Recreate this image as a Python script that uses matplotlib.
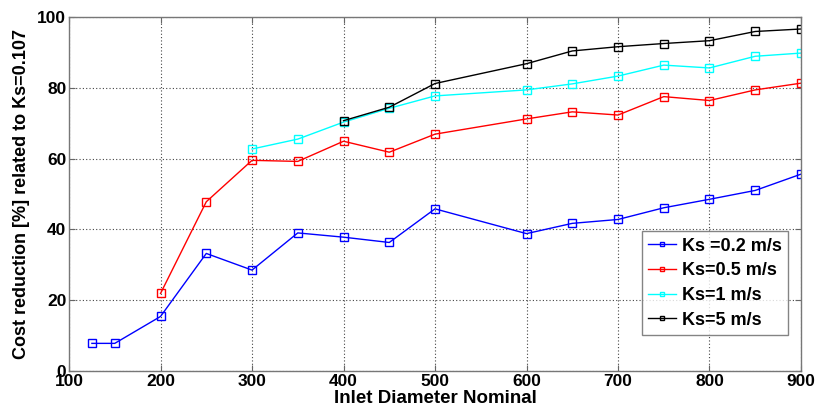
import matplotlib
matplotlib.use("Agg")
import matplotlib.pyplot as plt

plt.rcParams['font.family'] = ['Liberation Sans', 'DejaVu Sans']
plt.rcParams['font.weight'] = 'bold'

# Inlet diameters (nominal) for each series
d_02 = [125, 150, 200, 250, 300, 350, 400, 450, 500, 600, 650, 700, 750, 800, 850, 900]
v_02 = [7.8, 7.8, 15.4, 33.2, 28.5, 39.0, 37.8, 36.3, 45.8, 38.8, 41.7, 42.8, 46.1, 48.5, 51.0, 55.6]

d_05 = [200, 250, 300, 350, 400, 450, 500, 600, 650, 700, 750, 800, 850, 900]
v_05 = [21.9, 47.8, 59.5, 59.2, 64.9, 61.8, 66.9, 71.2, 73.2, 72.3, 77.5, 76.4, 79.4, 81.3]

d_1 = [300, 350, 400, 450, 500, 600, 650, 700, 750, 800, 850, 900]
v_1 = [62.7, 65.5, 70.3, 74.2, 77.7, 79.4, 81.1, 83.3, 86.4, 85.6, 88.9, 89.8]

d_5 = [400, 450, 500, 600, 650, 700, 750, 800, 850, 900]
v_5 = [70.7, 74.5, 81.2, 86.8, 90.4, 91.6, 92.5, 93.3, 95.9, 96.6]

series = [
    (d_02, v_02, '#0000ff', 'Ks =0.2 m/s'),
    (d_05, v_05, '#ff0000', 'Ks=0.5 m/s'),
    (d_1, v_1, '#00ffff', 'Ks=1 m/s'),
    (d_5, v_5, '#000000', 'Ks=5 m/s'),
]

x_ticks = [100, 200, 300, 400, 500, 600, 700, 800, 900]
y_ticks = [0, 20, 40, 60, 80, 100]

fig = plt.figure(figsize=(8.16, 4.19), dpi=100)
ax = fig.add_axes([0.0846, 0.1146, 0.8970, 0.8449])

for d, v, c, lab in series:
    ax.plot(d, v, color=c, lw=1.0, marker='s', markersize=5.5,
            markerfacecolor='none', markeredgecolor=c, markeredgewidth=1.0,
            label=lab)

ax.set_xlim(100, 900)
ax.set_ylim(0, 100)
ax.set_xticks(x_ticks)
ax.set_yticks(y_ticks)
ax.tick_params(labelsize=12.5, direction='in', length=4, color='#666666',
               top=True, right=True, pad=2)
ax.grid(True, color='#444444', linestyle=(0, (1, 2)), linewidth=0.8)
for s in ax.spines.values():
    s.set_color('#777777')
    s.set_linewidth(1.0)

ax.set_xlabel('Inlet Diameter Nominal', fontsize=13.5, fontweight='bold', labelpad=1)
ax.set_ylabel('Cost reduction [%] related to Ks=0.107', fontsize=13,
              fontweight='bold', labelpad=5)

leg = ax.legend(loc='lower right', bbox_to_anchor=(0.982, 0.102),
                borderaxespad=0, fontsize=13, frameon=True, fancybox=False,
                handlelength=1.55, handletextpad=0.3, borderpad=0.35,
                labelspacing=0.42, markerscale=0.6)
leg.get_frame().set_edgecolor('#666666')
leg.get_frame().set_linewidth(1.0)

fig.savefig('out.png', dpi=100)
